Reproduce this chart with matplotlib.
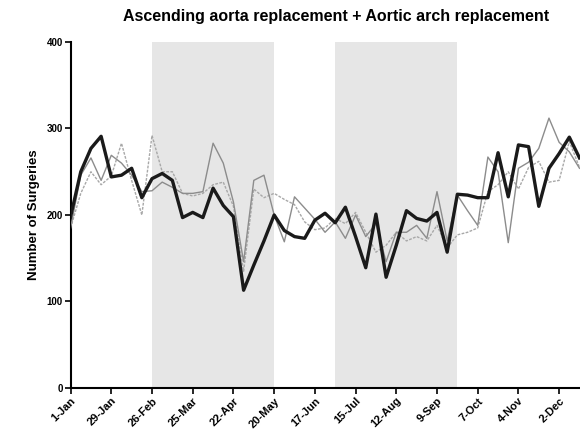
import numpy as np
import matplotlib.pyplot as plt

plt.rcParams['font.family'] = ['Liberation Sans', 'DejaVu Sans']

# weekly counts, week 0 = 1-Jan
weeks = np.arange(51)
main_series = [198, 250, 277, 291, 244, 246, 254, 220, 242, 248,
               240, 197, 203, 197, 231, 211, 198, 113, 142, 170,
               200, 182, 175, 173, 194, 202, 191, 209, 175, 139,
               201, 128, 165, 205, 196, 193, 203, 157, 224, 223,
               220, 220, 272, 221, 281, 279, 210, 254, 271, 290, 266]
gray_series = [185, 246, 266, 240, 269, 260, 246, 227, 228, 238,
               232, 225, 225, 227, 283, 260, 215, 146, 240, 246,
               200, 169, 221, 208, 195, 180, 192, 173, 200, 175,
               190, 146, 180, 180, 188, 173, 227, 170, 223, 205,
               188, 267, 250, 168, 254, 261, 277, 312, 284, 273, 254]
dash_series = [185, 225, 250, 235, 245, 283, 240, 200, 292, 250,
               250, 225, 222, 225, 235, 238, 210, 135, 230, 220,
               225, 218, 212, 192, 183, 185, 196, 190, 203, 180,
               157, 165, 180, 170, 175, 170, 188, 162, 177, 180,
               185, 227, 235, 250, 230, 255, 262, 238, 240, 285, 255]

tick_weeks = np.arange(0, 49, 4)
tick_labels = ['1-Jan', '29-Jan', '26-Feb', '25-Mar', '22-Apr', '20-May', '17-Jun',
               '15-Jul', '12-Aug', '9-Sep', '7-Oct', '4-Nov', '2-Dec']
shaded = [(8, 20), (26, 38)]

fig = plt.figure(figsize=(5.8, 4.33), dpi=100)
ax = fig.add_axes([0.1217, 0.104, 0.8783, 0.799])

for a, b in shaded:
    ax.axvspan(a, b, color='#e6e6e6', lw=0, zorder=0)

ax.plot(weeks, dash_series, color='#a8a8a8', lw=1.0, ls=(0, (2, 1)), zorder=2)
ax.plot(weeks, gray_series, color='#8c8c8c', lw=1.0, zorder=3)
ax.plot(weeks, main_series, color='#1a1a1a', lw=2.4, zorder=4)

ax.set_xlim(0, 50.05)
ax.set_ylim(0, 400)
ax.set_yticks([0, 100, 200, 300, 400])
ax.set_xticks(tick_weeks)
ax.set_xticklabels(tick_labels, rotation=45, ha='right', rotation_mode='anchor')
for lab in ax.get_xticklabels():
    lab.set_fontweight('bold')
    lab.set_fontsize(8)
for lab in ax.get_yticklabels():
    lab.set_fontweight('bold')
    lab.set_fontsize(7)

ax.spines['top'].set_visible(False)
ax.spines['right'].set_visible(False)
ax.spines['left'].set_linewidth(1.5)
ax.spines['bottom'].set_linewidth(1.5)
ax.tick_params(axis='both', width=1.2, length=4, pad=1.5)

ax.set_ylabel('Number of Surgeries', fontsize=9.5, fontweight='bold', labelpad=5)
fig.text(0.58, 0.963, 'Ascending aorta replacement + Aortic arch replacement',
         ha='center', va='center', fontsize=11.5, fontweight='bold')

fig.savefig('out.png', dpi=100)
